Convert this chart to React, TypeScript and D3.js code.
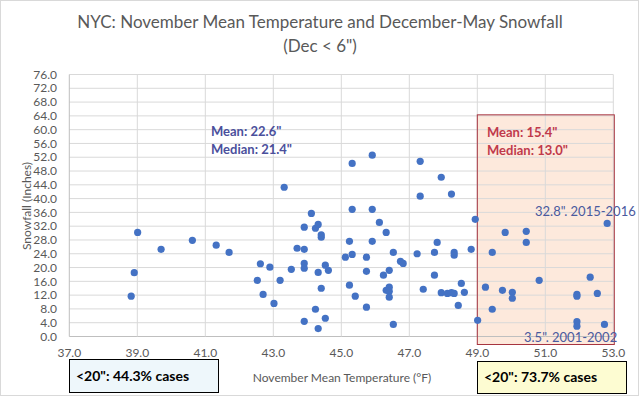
import React from 'react';
import * as d3 from 'd3';

// November mean temperature (°F) and following Dec-May snowfall (inches), winters with Dec < 6"
const novTemp = [
  38.82, 38.91, 39.01, 39.7, 40.62, 41.32, 41.7, 42.53, 42.62, 42.7, 42.9, 43.02, 43.2, 43.32,
  43.53, 43.7, 43.91, 43.91, 43.91, 43.91, 43.91, 44.12, 44.24, 44.24, 44.32, 44.32, 44.32,
  44.41, 44.41, 44.41, 44.53, 44.53, 44.62, 45.12, 45.24, 45.24, 45.32, 45.32, 45.32, 45.41,
  45.74, 45.74, 45.74, 45.91, 45.91, 45.91, 46.12, 46.24, 46.32, 46.32, 46.41, 46.41, 46.41,
  46.41, 46.53, 46.53, 46.74, 46.82, 47.23, 47.32, 47.32, 47.41, 47.74, 47.74, 47.82, 47.94,
  47.94, 48.12, 48.24, 48.24, 48.32, 48.32, 48.32, 48.44, 48.53, 48.62, 48.82, 48.94,
  49.01, 49.24, 49.44, 49.44, 49.74, 49.82, 50.03, 50.03, 50.44, 50.44, 50.82, 51.93,
  51.93, 51.93, 51.93, 52.32, 52.53, 52.74, 52.82,
];
const snowfall = [
  11.7, 18.5, 30.2, 25.3, 27.9, 26.5, 24.4, 16.3, 21.1, 12.2, 20.1, 9.6, 16.3, 43.3,
  19.5, 25.6, 25.3, 31.7, 21.2, 19.8, 4.4, 35.7, 31.4, 7.9, 32.5, 18.6, 2.3,
  29.5, 28.8, 14.0, 20.7, 5.3, 19.2, 23.0, 27.6, 14.9, 50.2, 36.9, 23.8, 11.7,
  23.0, 18.9, 8.5, 52.6, 36.9, 27.6, 33.1, 17.8, 30.2, 13.4, 19.2, 14.3, 13.1,
  11.4, 24.4, 3.5, 21.8, 21.2, 24.0, 50.8, 40.7, 13.7, 24.4, 17.8, 27.3, 46.2,
  12.7, 12.5, 41.3, 12.7, 24.4, 23.6, 12.5, 9.0, 15.4, 12.8, 25.3, 34.0,
  4.7, 14.3, 24.4, 7.9, 13.4, 30.2, 12.8, 11.1, 30.5, 27.3, 16.3, 12.2,
  11.7, 4.3, 3.0, 17.2, 12.5, 3.5, 32.8,
];

const xTicks = d3.range(37, 53.01, 2);
const yTicks = d3.range(0, 76.01, 4);

const warmFrom = 49;
const warmTo = 53;
const warmTop = 64.3;

const blueStats = ['Mean: 22.6"', 'Median: 21.4"'];
const redStats = ['Mean: 15.4"', 'Median: 13.0"'];
const callouts = ['32.8". 2015-2016', '3.5". 2001-2002'];
const shareUnder20 = ['<20": 44.3% cases', '<20": 73.7% cases'];

const font = 'Lato, "Open Sans", sans-serif';

export default function App() {
  const width = 640;
  const height = 397;

  const x = d3.scaleLinear().domain([37, 53]).range([69.3, 613.3]);
  const y = d3.scaleLinear().domain([0, 76]).range([336.5, 74.5]);

  const points = novTemp.map((t, i) => ({ t, s: snowfall[i] }));

  return (
    <svg width={width} height={height} style={{ position: 'absolute', left: 0, top: 0, background: '#fff' }} fontFamily={font}>
      <rect x={0.5} y={0.5} width={width - 2} height={height - 2} fill="#fff" stroke="#d9d9d9" />

      {/* title */}
      <text x={320} y={28} textAnchor="middle" fontSize={17} fill="#595959">
        NYC: November Mean Temperature and December-May Snowfall
      </text>
      <text x={320} y={52} textAnchor="middle" fontSize={17} fill="#595959">
        (Dec &lt; 6")
      </text>

      {/* warm-November highlight box */}
      <rect
        x={x(warmFrom)}
        y={y(warmTop)}
        width={x(warmTo) - x(warmFrom) + 1}
        height={y(0) - y(warmTop) + 8}
        fill="#fde9dc"
      />

      {/* grid */}
      {yTicks.map(v => (
        <line key={'h' + v} x1={x(37)} x2={x(53)} y1={y(v)} y2={y(v)} stroke={v === 0 ? '#bfbfbf' : '#d9d9d9'} strokeWidth={1} />
      ))}
      {xTicks.map(v => (
        <line key={'v' + v} x1={x(v)} x2={x(v)} y1={y(0)} y2={y(76)} stroke={v === 37 ? '#bfbfbf' : '#d9d9d9'} strokeWidth={1} />
      ))}

      <rect
        x={x(warmFrom)}
        y={y(warmTop)}
        width={x(warmTo) - x(warmFrom) + 1}
        height={y(0) - y(warmTop) + 8}
        fill="none"
        stroke="#a7343f"
        strokeWidth={1}
      />

      {/* tick labels */}
      {yTicks.map(v => (
        <text key={'yl' + v} x={57} y={y(v)} dy="0.35em" textAnchor="end" fontSize={12} fill="#595959">
          {v.toFixed(1)}
        </text>
      ))}
      {xTicks.map(v => (
        <text key={'xl' + v} x={x(v)} y={357} textAnchor="middle" fontSize={12} fill="#595959">
          {v.toFixed(1)}
        </text>
      ))}

      {/* axis titles */}
      <text transform="translate(31,206) rotate(-90)" textAnchor="middle" fontSize={12} fill="#595959">
        Snowfall (Inches)
      </text>
      <text x={342} y={382} textAnchor="middle" fontSize={12} fill="#595959">
        November Mean Temperature (°F)
      </text>

      {/* points */}
      {points.map((p, i) => (
        <circle key={i} cx={x(p.t)} cy={y(p.s)} r={3.6} fill="#4472c4" />
      ))}

      {/* stats */}
      {blueStats.map((s, i) => (
        <text key={'b' + i} x={211} y={136 + i * 18} fontSize={13} fontWeight="bold" fill="#4a4f9c">
          {s}
        </text>
      ))}
      {redStats.map((s, i) => (
        <text key={'r' + i} x={487} y={137 + i * 18} fontSize={13} fontWeight="bold" fill="#c0394b">
          {s}
        </text>
      ))}

      {/* callouts */}
      <text x={535} y={216} fontSize={13} fill="#4a5a9e">{callouts[0]}</text>
      <text x={524} y={342} fontSize={13} fill="#4a5a9e">{callouts[1]}</text>

      {/* share-under-20 boxes */}
      <rect x={69.5} y={359.5} width={149} height={33} fill="#eef7fb" stroke="#000" />
      <text x={76} y={381} fontSize={14} fontWeight="bold" fill="#000">{shareUnder20[0]}</text>
      <rect x={477.5} y={361.5} width={149} height={32} fill="#fdfcd2" stroke="#000" />
      <text x={484} y={382} fontSize={14} fontWeight="bold" fill="#000">{shareUnder20[1]}</text>
    </svg>
  );
}
